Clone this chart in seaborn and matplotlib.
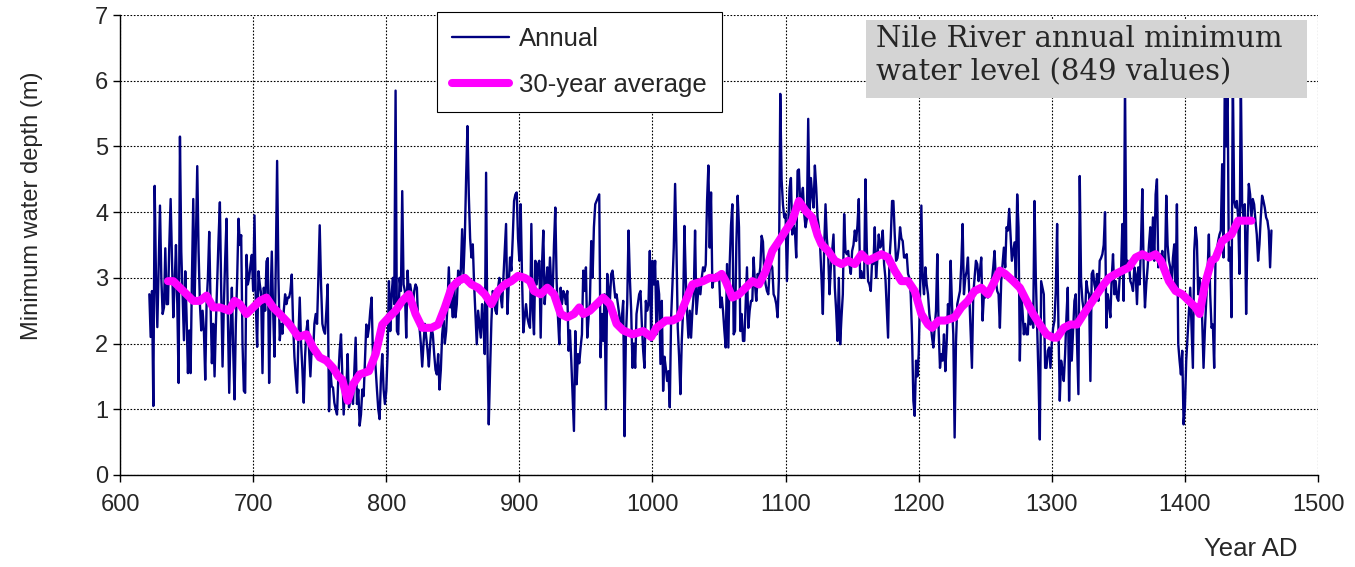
import numpy as np
import pandas as pd
import matplotlib
matplotlib.use("Agg")
import matplotlib.pyplot as plt
from matplotlib.patches import Rectangle
import seaborn as sns

# Annual minimum water depth (m), one list per century
depth_600s = [2.75, 2.1, 2.8, 1.05, 4.4, 3.0, 2.25, 3.2,
              4.1, 3.0, 2.45, 2.55, 3.45, 2.6, 2.6, 3.5, 4.2, 3.3,
              2.4, 2.9, 3.5, 2.6, 1.4, 5.15, 3.4, 2.75, 2.05, 3.1,
              2.4, 1.55, 2.2, 1.55, 3.0, 4.2, 2.65, 3.6, 4.7, 3.4,
              2.6, 2.2, 2.5, 2.2, 1.45, 2.6, 3.0, 3.7, 2.6, 1.7,
              2.3, 1.5, 2.3, 2.95, 3.6, 4.15, 2.8, 1.65, 2.6, 3.3,
              3.9, 2.4, 1.25, 2.2, 2.85, 1.9, 1.15, 2.3, 3.0, 3.9,
              3.5, 3.65, 2.0, 1.28, 1.25, 3.35, 2.9, 3.0, 3.2, 3.35]
depth_700s = [2.8, 3.95, 2.6, 1.95, 3.1, 2.9, 2.75, 1.55, 2.85, 2.5,
              3.25, 3.3, 1.4, 2.6, 3.4, 2.5, 1.8, 3.2, 4.78, 3.0,
              2.05, 2.3, 2.15, 2.5, 2.75, 2.6, 2.7, 2.7, 2.8, 3.05,
              2.3, 1.8, 1.5, 1.25, 2.1, 2.7, 2.0, 1.6, 1.1, 1.8,
              2.2, 2.35, 1.9, 1.5, 1.95, 1.85, 2.3, 2.45, 2.3, 3.0,
              3.8, 2.9, 2.3, 2.2, 2.15, 2.5, 2.9, 0.97, 1.6, 1.35,
              1.33, 1.1, 1.0, 0.92, 1.5, 1.9, 2.14, 1.5, 0.92, 1.4,
              1.3, 1.84, 1.03, 1.15, 1.23, 1.08, 1.6, 2.09, 1.08, 1.3,
              0.75, 0.92, 1.3, 1.2, 1.74, 2.29, 2.1, 2.24, 2.5, 2.7,
              1.79, 2.0, 1.63, 1.3, 1.0, 0.85, 1.48, 1.84, 1.3, 1.08]
depth_800s = [1.28, 1.84, 2.95, 2.19, 2.75, 3.0, 2.6, 5.85, 2.19, 2.14,
              3.0, 2.8, 4.32, 2.9, 2.8, 2.09, 3.11, 2.75, 2.9, 2.75,
              2.6, 2.8, 2.9, 2.85, 2.3, 2.24, 1.99, 1.65, 2.0, 2.3,
              2.1, 1.9, 1.65, 2.0, 2.24, 2.14, 1.84, 1.6, 1.53, 1.84,
              1.3, 1.6, 2.14, 2.35, 2.0, 2.19, 2.6, 3.16, 2.55, 2.7,
              2.4, 2.95, 2.4, 2.6, 3.11, 2.9, 3.1, 3.74, 3.06, 3.6,
              4.53, 5.31, 4.27, 3.6, 3.31, 3.51, 2.9, 2.45, 1.99, 2.5,
              2.29, 2.09, 2.6, 2.29, 1.84, 4.6, 1.99, 0.77, 1.6, 2.35,
              2.8, 2.7, 2.5, 2.45, 2.85, 3.0, 2.7, 2.55, 3.0, 3.4,
              3.82, 2.45, 2.9, 3.31, 3.11, 3.6, 4.17, 4.27, 4.3, 3.6]
depth_900s = [3.26, 4.12, 3.0, 2.17, 2.4, 2.6, 2.4, 2.3, 2.24, 3.82,
              2.5, 2.14, 3.26, 2.9, 3.21, 3.26, 2.09, 3.2, 3.72, 2.6,
              2.9, 3.16, 2.8, 3.31, 2.85, 2.75, 3.5, 4.07, 2.95, 2.4,
              1.99, 2.85, 2.6, 2.8, 2.75, 2.6, 2.8, 1.89, 2.2, 1.74,
              1.2, 0.67, 2.19, 1.38, 1.84, 1.7, 1.94, 2.14, 3.11, 2.8,
              3.16, 2.09, 2.4, 2.65, 3.56, 3.0, 3.77, 4.12, 4.17, 4.22,
              4.27, 1.79, 2.45, 2.04, 2.75, 1.0, 3.06, 2.8, 2.65, 3.06,
              3.11, 2.9, 2.7, 2.75, 2.6, 2.45, 2.19, 2.4, 2.65, 0.59,
              2.09, 2.6, 3.72, 3.0, 2.5, 1.63, 2.0, 1.63, 2.45, 2.6,
              2.75, 2.8, 2.3, 1.89, 1.63, 2.65, 2.5, 2.6, 3.41, 2.04]
depth_1000s = [3.26, 2.9, 3.26, 2.14, 2.95, 2.75, 1.69, 2.65, 1.28, 1.8,
               1.63, 1.43, 1.58, 1.03, 2.4, 2.9, 3.46, 4.43, 3.46, 2.24,
               1.8, 1.23, 2.04, 2.5, 3.79, 3.0, 2.45, 2.09, 2.5, 2.09,
               2.5, 2.75, 3.72, 2.45, 2.7, 2.95, 2.75, 3.0, 3.16, 3.1,
               3.2, 4.17, 4.71, 3.46, 4.3, 2.85, 3.0, 2.95, 3.06, 3.0,
               3.06, 2.55, 2.7, 2.5, 2.2, 1.94, 3.21, 1.94, 3.21, 3.8,
               4.12, 2.14, 2.19, 3.5, 4.25, 3.77, 2.19, 2.45, 2.04, 2.04,
               2.6, 3.16, 2.24, 2.5, 2.65, 2.65, 3.31, 2.9, 2.65, 3.06,
               3.0, 3.16, 3.64, 3.55, 3.06, 2.9, 2.8, 2.75, 3.11, 3.2,
               3.16, 2.75, 2.7, 2.6, 2.4, 3.0, 5.8, 4.5, 4.12, 3.92]
depth_1100s = [3.97, 2.95, 3.8, 4.37, 4.52, 3.66, 3.8, 3.72, 3.31, 4.63,
               4.65, 4.12, 4.2, 4.37, 3.97, 3.77, 3.9, 5.42, 3.97, 4.52,
               4.27, 4.07, 4.71, 4.37, 3.92, 3.77, 3.46, 3.0, 2.45, 3.46,
               4.12, 3.6, 3.36, 2.75, 3.16, 3.4, 3.66, 2.85, 2.5, 2.04,
               3.0, 1.99, 2.4, 2.75, 3.97, 3.4, 3.36, 3.41, 3.2, 3.06,
               3.41, 3.5, 3.72, 3.56, 3.8, 4.2, 3.0, 3.1, 3.0, 3.0,
               4.5, 3.46, 2.95, 2.9, 2.8, 3.26, 3.21, 3.77, 3.0, 3.3,
               3.66, 3.46, 3.5, 3.72, 3.21, 3.0, 2.55, 2.09, 3.26, 3.6,
               4.17, 4.17, 3.66, 3.26, 3.3, 3.46, 3.77, 3.6, 3.56, 3.31,
               3.31, 3.36, 3.06, 3.0, 2.75, 2.14, 1.13, 0.9, 1.74, 1.5]
depth_1200s = [1.84, 2.75, 4.1, 3.0, 2.75, 3.16, 2.9, 2.75, 2.45, 2.29,
               2.1, 1.94, 2.24, 2.5, 3.36, 2.2, 1.63, 1.84, 1.74, 2.14,
               1.58, 2.0, 2.6, 2.35, 3.26, 2.6, 2.14, 0.57, 2.0, 2.6,
               2.7, 2.8, 3.2, 3.82, 2.75, 3.0, 3.1, 3.31, 2.75, 2.2,
               1.63, 2.75, 3.0, 3.26, 3.21, 2.95, 3.1, 3.31, 2.35, 2.75,
               2.7, 2.8, 2.7, 2.75, 2.9, 2.95, 3.16, 3.41, 2.95, 2.8,
               2.75, 2.24, 2.95, 3.2, 3.46, 3.16, 3.77, 3.72, 4.05, 3.66,
               3.26, 3.4, 3.54, 3.0, 4.27, 3.77, 1.74, 2.75, 2.5, 2.14,
               2.3, 2.14, 2.14, 2.65, 2.29, 2.6, 2.24, 4.17, 3.0, 2.24,
               1.5, 0.54, 2.95, 2.85, 2.75, 1.63, 1.63, 1.89, 1.94, 1.63]
depth_1300s = [2.0, 2.24, 2.35, 2.8, 3.82, 2.24, 1.13, 1.74, 1.6, 1.43,
               1.84, 2.4, 2.85, 1.13, 2.24, 1.74, 2.2, 2.65, 2.75, 2.0,
               1.23, 4.55, 2.95, 2.65, 2.5, 2.45, 2.95, 2.8, 2.75, 1.43,
               3.06, 3.11, 2.9, 2.8, 3.06, 2.65, 3.26, 3.3, 3.36, 3.5,
               4.0, 2.24, 2.75, 2.6, 2.4, 3.0, 3.36, 2.75, 2.95, 2.7,
               2.65, 3.0, 3.06, 3.82, 2.65, 6.0, 3.2, 3.26, 3.2, 2.95,
               2.9, 2.8, 3.16, 3.06, 2.6, 3.16, 2.9, 3.5, 4.35, 3.16,
               2.55, 2.9, 3.16, 3.5, 3.77, 3.31, 3.92, 3.26, 4.27, 4.5,
               3.16, 3.36, 3.26, 3.41, 3.2, 3.11, 4.25, 3.5, 3.26, 3.16,
               2.85, 3.3, 3.51, 2.8, 4.12, 1.99, 1.74, 1.53, 1.89, 0.77]
depth_1400s = [1.03, 1.74, 2.1, 2.45, 2.85, 2.24, 1.63, 3.41, 3.77, 3.56,
               2.75, 3.0, 2.75, 2.35, 1.63, 2.2, 2.65, 3.06, 3.66, 2.75,
               2.24, 2.29, 1.63, 3.36, 3.41, 3.56, 3.66, 3.72, 4.73, 3.31,
               6.1, 5.0, 6.1, 3.26, 3.46, 2.4, 6.1, 4.17, 4.07, 4.17,
               3.92, 3.06, 6.1, 4.12, 3.92, 4.12, 2.45, 3.66, 4.43, 4.27,
               3.92, 4.2, 4.12, 3.87, 3.66, 3.26, 3.51, 3.92, 4.25, 4.17,
               4.07, 3.92, 3.87, 3.72, 3.16, 3.72]

# 30-year running average
avg_years = [636, 640, 645, 650, 655, 660, 665, 670, 675, 682, 686, 690, 695,
             700, 705, 710, 715, 720, 727, 734, 740, 745, 750, 755, 760, 764,
             767, 771, 775, 780, 787, 792, 797, 802, 807, 812, 817, 822, 827,
             834, 839, 844, 849, 854, 859, 864, 869, 874, 879, 884, 889, 894,
             899, 904, 908, 911, 916, 921, 926, 931, 936, 941, 945, 948, 953,
             958, 963, 968, 973, 978, 985, 993, 999, 1003, 1010, 1015, 1020,
             1025, 1030, 1038, 1043, 1048, 1052, 1055, 1060, 1065, 1070, 1075,
             1080, 1085, 1090, 1095, 1100, 1105, 1110, 1115, 1120, 1124, 1127,
             1132, 1137, 1142, 1147, 1152, 1157, 1162, 1167, 1172, 1177, 1182,
             1187, 1192, 1197, 1202, 1207, 1210, 1215, 1220, 1227, 1232, 1237,
             1242, 1247, 1252, 1257, 1261, 1265, 1271, 1276, 1281, 1286, 1291,
             1296, 1301, 1304, 1309, 1314, 1319, 1324, 1329, 1334, 1339, 1343,
             1348, 1353, 1358, 1363, 1368, 1373, 1378, 1382, 1388, 1393, 1398,
             1403, 1408, 1411, 1415, 1420, 1423, 1428, 1435, 1440, 1445, 1450]
avg_depth = [2.95, 2.95, 2.85, 2.75, 2.65, 2.65, 2.73, 2.55, 2.55, 2.5, 2.65, 2.6, 2.45,
             2.55, 2.65, 2.7, 2.55, 2.45, 2.3, 2.1, 2.14, 1.94, 1.79, 1.74, 1.63, 1.5,
             1.45, 1.13, 1.38, 1.53, 1.58, 1.84, 2.29, 2.4, 2.5, 2.65, 2.75, 2.45, 2.24,
             2.24, 2.29, 2.55, 2.85, 2.95, 3.0, 2.9, 2.85, 2.75, 2.6, 2.8, 2.9, 2.95,
             3.03, 3.0, 2.95, 2.8, 2.75, 2.85, 2.75, 2.45, 2.4, 2.45, 2.55, 2.45, 2.5,
             2.6, 2.7, 2.6, 2.3, 2.2, 2.14, 2.19, 2.1, 2.24, 2.35, 2.35, 2.4,
             2.65, 2.9, 2.95, 3.0, 3.0, 3.06, 2.95, 2.7, 2.75, 2.85, 2.95,
             2.9, 3.1, 3.41, 3.56, 3.72, 3.87, 4.17, 4.02, 3.92, 3.65, 3.51,
             3.41, 3.26, 3.21, 3.26, 3.21, 3.36, 3.26, 3.31, 3.36, 3.31, 3.11,
             2.95, 2.95, 2.8, 2.45, 2.29, 2.24, 2.35, 2.35, 2.4, 2.55, 2.65,
             2.8, 2.85, 2.75, 2.95, 3.11, 3.06, 2.95, 2.85, 2.65, 2.45, 2.29,
             2.14, 2.09, 2.09, 2.24, 2.29, 2.29, 2.45, 2.6, 2.75, 2.9, 3.0,
             3.06, 3.11, 3.16, 3.31, 3.36, 3.31, 3.36, 3.26, 2.95, 2.8, 2.75,
             2.65, 2.55, 2.45, 2.9, 3.26, 3.3, 3.56, 3.66, 3.87, 3.87, 3.87]

blocks = [(622, depth_600s), (700, depth_700s), (800, depth_800s), (900, depth_900s),
          (1000, depth_1000s), (1100, depth_1100s), (1200, depth_1200s),
          (1300, depth_1300s), (1400, depth_1400s)]
annual = pd.concat([pd.DataFrame({"year": np.arange(y0, y0 + len(v)), "depth": v})
                    for y0, v in blocks], ignore_index=True)
avg = pd.DataFrame({"year": avg_years, "depth": avg_depth})

sns.set_style("white")
plt.rcParams["font.family"] = ["Liberation Sans", "DejaVu Sans"]

fig = plt.figure(figsize=(13.55, 5.67), dpi=100)
ax = fig.add_axes([0.0886, 0.1623, 0.8841, 0.8112])

sns.lineplot(data=annual, x="year", y="depth", color="#000080", linewidth=1.7,
             ax=ax, label="Annual", zorder=3)
sns.lineplot(data=avg, x="year", y="depth", color="#ff00ff", linewidth=5.8,
             ax=ax, label="30-year average", zorder=4, solid_capstyle="round")

ax.set_xlim(600, 1500)
ax.set_ylim(0, 7)
ax.set_xticks(range(600, 1501, 100))
ax.set_yticks(range(0, 8))
ax.grid(True, color="black", linestyle=(0, (1.5, 1.5)), linewidth=0.8)
ax.tick_params(axis="both", labelsize=17, direction="out", length=5, width=1,
               color="black", bottom=True, left=True)
ax.tick_params(axis="x", pad=9)
for side in ["top", "right"]:
    ax.spines[side].set_visible(False)
for side in ["left", "bottom"]:
    ax.spines[side].set_color("black")
    ax.spines[side].set_linewidth(1.0)

ax.set_ylabel("Minimum water depth (m)", fontsize=17)
ax.yaxis.set_label_coords(-0.064, 0.585)
ax.set_xlabel("Year AD", fontsize=18.5)
ax.xaxis.set_label_coords(0.944, -0.135)

leg = ax.legend(loc="upper left", bbox_to_anchor=(0.2645, 1.007), borderaxespad=0,
                fontsize=18.5, frameon=True, fancybox=False, edgecolor="black",
                framealpha=1, handlelength=2.2, handletextpad=0.4,
                labelspacing=0.85, borderpad=0.6)
leg.get_frame().set_linewidth(0.8)
leg.set_zorder(10)

# grey title box, drawn over the data
ax.add_patch(Rectangle((0.6227, 0.8196), 0.3681, 0.1694, transform=ax.transAxes,
                       facecolor="#d4d4d4", edgecolor="none", zorder=9,
                       clip_on=False))
ax.text(0.631, 0.978, "Nile River annual minimum\nwater level (849 values)",
        transform=ax.transAxes, ha="left", va="top", fontsize=21,
        family=["DejaVu Serif"], linespacing=1.25, zorder=10)

fig.savefig("out.png", dpi=100)
